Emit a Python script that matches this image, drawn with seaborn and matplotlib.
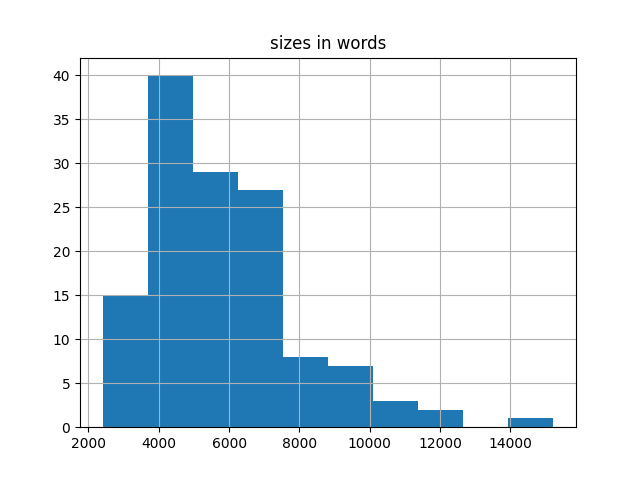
import numpy as np
import matplotlib
matplotlib.use("Agg")
import matplotlib.pyplot as plt
import seaborn as sns

# histogram: 10 bins, edges in words
bin_edges = [2400, 3683, 4966, 6249, 7532, 8815, 10098, 11381, 12664, 13947, 15230]
counts = [15, 40, 29, 27, 8, 7, 3, 2, 0, 1]

centers = [(a + b) / 2 for a, b in zip(bin_edges[:-1], bin_edges[1:])]

fig, ax = plt.subplots(figsize=(6.4, 4.8), dpi=100)
sns.histplot(x=centers, weights=counts, bins=bin_edges, ax=ax,
             color="#1f77b4", alpha=1, linewidth=0, edgecolor="none")
ax.set_title("sizes in words")
ax.set_xlabel("")
ax.set_ylabel("")
ax.grid(True)
ax.set_xticks([2000, 4000, 6000, 8000, 10000, 12000, 14000])

fig.savefig("out.png")
